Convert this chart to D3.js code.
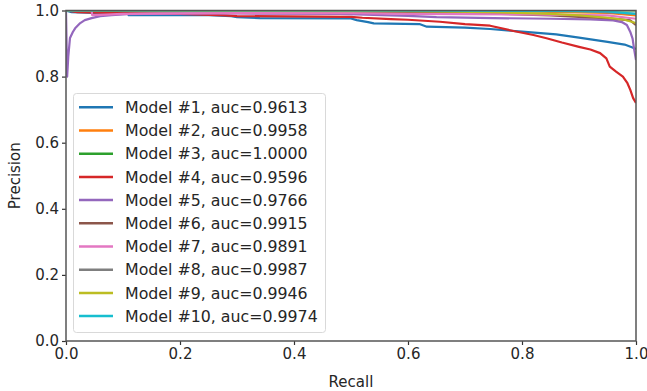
<!DOCTYPE html>
<html>
<head>
<meta charset="utf-8">
<title>Precision-Recall curves</title>
<script src="https://d3js.org/d3.v7.min.js"></script>
<style>
  body { margin: 0; background: #fff; }
  text { font-family: "DejaVu Sans", sans-serif; fill: #262626; }
</style>
</head>
<body>
<script>
// model names / auc values shown in the legend
var models = ["Model #1", "Model #2", "Model #3", "Model #4", "Model #5",
              "Model #6", "Model #7", "Model #8", "Model #9", "Model #10"];
var aucs = ["0.9613", "0.9958", "1.0000", "0.9596", "0.9766",
            "0.9915", "0.9891", "0.9987", "0.9946", "0.9974"];
var colors = ["#1f77b4", "#ff7f0e", "#2ca02c", "#d62728", "#9467bd",
              "#8c564b", "#e377c2", "#7f7f7f", "#bcbd22", "#17becf"];
var ticks = [0, 0.2, 0.4, 0.6, 0.8, 1.0];

// [recall, precision]
var curve1 = [[0,1.0],[0.01,0.995],[0.05,0.993],[0.108,0.992],[0.11,0.986],[0.25,0.986],
  [0.29,0.983],[0.30,0.980],[0.34,0.977],[0.50,0.976],[0.51,0.971],[0.53,0.965],[0.54,0.961],
  [0.62,0.959],[0.633,0.951],[0.70,0.948],[0.744,0.944],[0.80,0.936],[0.86,0.928],[0.90,0.918],
  [0.95,0.905],[0.98,0.897],[0.995,0.887],[1.0,0.884]];
var curve2 = [[0,1.0],[0.5,0.999],[0.8,0.997],[0.95,0.993],[1.0,0.985]];
var curve3 = [[0,1.0],[1.0,1.0]];
var curve4 = [[0,1.0],[0.02,0.995],[0.1,0.992],[0.2,0.99],[0.28,0.985],[0.3,0.983],[0.5,0.981],
  [0.52,0.978],[0.57,0.974],[0.6,0.972],[0.656,0.966],[0.7,0.959],[0.744,0.954],[0.785,0.938],
  [0.82,0.926],[0.843,0.916],[0.87,0.903],[0.9,0.89],[0.92,0.882],[0.937,0.871],[0.948,0.855],
  [0.954,0.83],[0.965,0.815],[0.977,0.80],[0.985,0.78],[0.99,0.76],[0.995,0.735],[1.0,0.72]];
var curve5 = [[0,1.0],[0.002,0.8],[0.004,0.86],[0.007,0.917],[0.012,0.935],[0.016,0.946],
  [0.025,0.962],[0.033,0.971],[0.045,0.977],[0.06,0.983],[0.08,0.986],[0.107,0.989],[0.2,0.991],
  [0.3,0.991],[0.48,0.99],[0.6,0.984],[0.65,0.980],[0.75,0.977],[0.85,0.975],[0.92,0.973],
  [0.96,0.970],[0.975,0.965],[0.984,0.956],[0.99,0.935],[0.994,0.915],[0.997,0.88],[1.0,0.85]];
var curve6 = [[0,1.0],[0.1,0.998],[0.3,0.997],[0.5,0.995],[0.7,0.993],[0.85,0.985],[0.9,0.981],
  [0.95,0.977],[0.99,0.97],[1.0,0.956]];
var curve7 = [[0,1.0],[0.045,1.0],[0.046,0.986],[0.06,0.987],[0.1,0.990],[0.3,0.992],[0.5,0.992],
  [0.6,0.990],[0.8,0.988],[0.95,0.985],[1.0,0.975]];
var curve8 = [[0,1.0],[0.6,1.0],[0.9,0.999],[1.0,0.99]];
var curve9 = [[0,1.0],[0.3,0.999],[0.6,0.998],[0.75,0.995],[0.85,0.99],[0.9,0.985],[0.95,0.978],
  [0.98,0.972],[1.0,0.962]];
var curve10 = [[0,1.0],[0.5,1.0],[0.8,0.999],[0.95,0.997],[1.0,0.99]];
var curves = [curve1, curve2, curve3, curve4, curve5, curve6, curve7, curve8, curve9, curve10];

var w = 647, h = 391;
var margin = {left: 66, right: 11, top: 10.5, bottom: 50};

var x = d3.scaleLinear().domain([0, 1]).range([margin.left, w - margin.right]);
var y = d3.scaleLinear().domain([0, 1]).range([h - margin.bottom, margin.top]);

var svg = d3.select("body").append("svg")
    .attr("width", w)
    .attr("height", h);

svg.append("clipPath").attr("id", "clip")
  .append("rect")
    .attr("x", x(0)).attr("y", y(1))
    .attr("width", x(1) - x(0)).attr("height", y(0) - y(1));

var line = d3.line()
    .x(function(d) { return x(d[0]); })
    .y(function(d) { return y(d[1]); });

svg.append("g").attr("clip-path", "url(#clip)")
  .selectAll("path")
  .data(curves)
  .enter()
  .append("path")
    .attr("d", line)
    .attr("fill", "none")
    .attr("stroke", function(d, i) { return colors[i]; })
    .attr("stroke-width", 2.2)
    .attr("stroke-linejoin", "round");

// axes
var xAxis = d3.axisBottom(x).tickValues(ticks).tickFormat(d3.format(".1f")).tickSize(4).tickPadding(3);
var yAxis = d3.axisLeft(y).tickValues(ticks).tickFormat(d3.format(".1f")).tickSize(4).tickPadding(3);

var gx = svg.append("g").attr("transform", "translate(0," + y(0) + ")").call(xAxis);
var gy = svg.append("g").attr("transform", "translate(" + x(0) + ",0)").call(yAxis);
[gx, gy].forEach(function(g) {
  g.select(".domain").remove();
  g.selectAll(".tick line").attr("stroke", "#333").attr("stroke-width", 1.2);
  g.selectAll(".tick text").attr("font-size", "15px").style("fill", "#262626");
});

// frame
svg.append("rect")
    .attr("x", x(0)).attr("y", y(1))
    .attr("width", x(1) - x(0)).attr("height", y(0) - y(1))
    .attr("fill", "none")
    .attr("stroke", "#555")
    .attr("stroke-width", 1.5);

svg.append("text")
    .attr("x", (x(0) + x(1)) / 2)
    .attr("y", 387)
    .attr("text-anchor", "middle")
    .attr("font-size", "15px")
    .text("Recall");

svg.append("text")
    .attr("transform", "translate(20," + (y(0) + y(1)) / 2 + ") rotate(-90)")
    .attr("text-anchor", "middle")
    .attr("font-size", "15px")
    .text("Precision");

// legend
var legend = svg.append("g");
legend.append("rect")
    .attr("x", 73.5).attr("y", 93.5)
    .attr("width", 252).attr("height", 239)
    .attr("rx", 3)
    .attr("fill", "#fff")
    .attr("fill-opacity", 0.8)
    .attr("stroke", "#d9d9d9");

var items = legend.selectAll("g.item")
  .data(models)
  .enter()
  .append("g")
    .attr("transform", function(d, i) { return "translate(0," + (107.3 + i * 23.2) + ")"; });

items.append("line")
    .attr("x1", 79).attr("x2", 113)
    .attr("stroke", function(d, i) { return colors[i]; })
    .attr("stroke-width", 2.5);

items.append("text")
    .attr("x", 125)
    .attr("dy", "0.36em")
    .attr("font-size", "15.8px")
    .text(function(d, i) { return d + ", auc=" + aucs[i]; });
</script>
</body>
</html>
